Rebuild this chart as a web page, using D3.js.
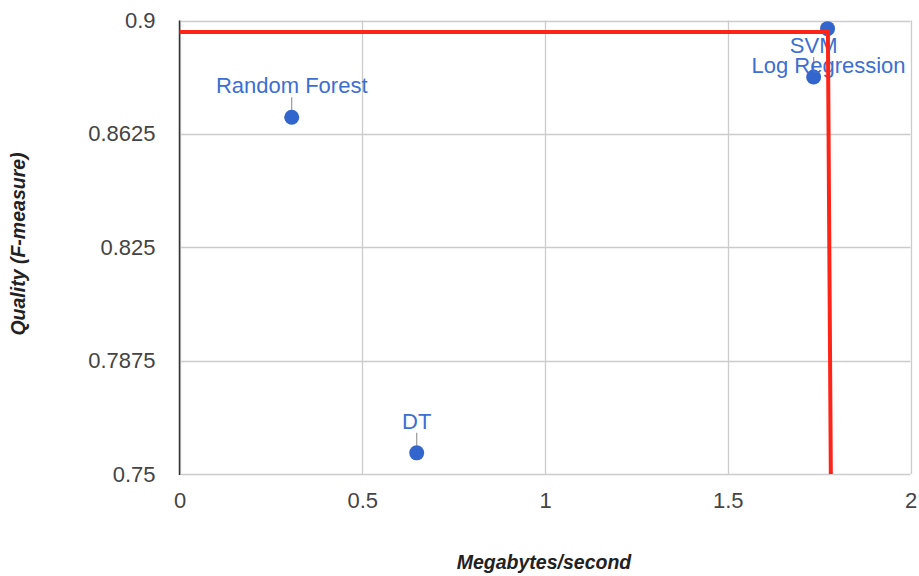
<!DOCTYPE html>
<html>
<head>
<meta charset="utf-8">
<script src="https://cdn.jsdelivr.net/npm/d3@7"></script>
<style>
  html, body { margin: 0; padding: 0; background: #fff; }
  svg { display: block; font-family: "Liberation Sans", Arial, sans-serif; }
</style>
</head>
<body>
<svg id="chart" width="919" height="576"></svg>
<script>
// Classifiers: throughput (MB/s) vs. quality (F-measure)
const models = ["Random Forest", "DT", "SVM", "Log Regression"];
const throughput = [0.307, 0.649, 1.735, 1.773];
const quality = [0.868, 0.757, 0.8813, 0.8973];
// annotation placement: above the point, or below when there is no room
const labelSide = ["above", "above", "above", "below"];

// Pareto frontier drawn in red
const frontierX = [0, 1.774, 1.782];
const frontierY = [0.8962, 0.8962, 0.75];

const xTicks = [0, 0.5, 1, 1.5, 2];
const yTicks = [0.75, 0.7875, 0.825, 0.8625, 0.9];

const svg = d3.select("#chart");
const plot = { left: 179.5, right: 910.5, top: 20.5, bottom: 474 };

const x = d3.scaleLinear().domain([0, 2]).range([plot.left, plot.right]);
const y = d3.scaleLinear().domain([0.75, 0.9]).range([plot.bottom, plot.top]);

// gridlines
svg.append("g").selectAll("line").data(xTicks).join("line")
  .attr("x1", d => Math.round(x(d)) + 0.5).attr("x2", d => Math.round(x(d)) + 0.5)
  .attr("y1", plot.top).attr("y2", plot.bottom)
  .attr("stroke", "#cccccc").attr("stroke-width", 1.3);
svg.append("g").selectAll("line").data(yTicks).join("line")
  .attr("x1", plot.left).attr("x2", plot.right)
  .attr("y1", d => Math.round(y(d)) + 0.5).attr("y2", d => Math.round(y(d)) + 0.5)
  .attr("stroke", "#cccccc").attr("stroke-width", 1.3);

// left axis line
svg.append("line")
  .attr("x1", plot.left).attr("x2", plot.left).attr("y1", plot.top).attr("y2", plot.bottom + 1)
  .attr("stroke", "#333333").attr("stroke-width", 1.5);

// y tick labels
const yAxis = d3.axisLeft(y).tickValues(yTicks).tickSize(0).tickPadding(24)
  .tickFormat(d => String(d));
svg.append("g").attr("transform", `translate(${plot.left},0)`).call(yAxis)
  .call(g => g.select(".domain").remove())
  .call(g => g.selectAll("text").attr("fill", "#444").attr("font-size", 22)
    .attr("font-family", "'Liberation Sans', Arial, sans-serif"));

// x tick labels
const xAxis = d3.axisBottom(x).tickValues(xTicks).tickSize(0).tickPadding(18)
  .tickFormat(d => String(d));
svg.append("g").attr("transform", `translate(0,${plot.bottom})`).call(xAxis)
  .call(g => g.select(".domain").remove())
  .call(g => g.selectAll("text").attr("fill", "#444").attr("font-size", 22)
    .attr("font-family", "'Liberation Sans', Arial, sans-serif"));

// axis titles
svg.append("text")
  .attr("x", 544).attr("y", 569)
  .attr("text-anchor", "middle")
  .attr("font-size", 19.5).attr("font-weight", "bold").attr("font-style", "italic")
  .attr("fill", "#222")
  .text("Megabytes/second");
svg.append("text")
  .attr("transform", "translate(25,244) rotate(-90)")
  .attr("text-anchor", "middle")
  .attr("font-size", 19.5).attr("font-weight", "bold").attr("font-style", "italic")
  .attr("fill", "#222")
  .text("Quality (F-measure)");

const pts = models.map((m, i) => ({ name: m, x: throughput[i], y: quality[i], side: labelSide[i] }));

// annotation stems
svg.append("g").selectAll("line").data(pts.filter(p => p.side === "above")).join("line")
  .attr("x1", p => x(p.x)).attr("x2", p => x(p.x))
  .attr("y1", p => y(p.y) - 7).attr("y2", p => y(p.y) - 20)
  .attr("stroke", "#999").attr("stroke-width", 1.2);

// points
svg.append("g").selectAll("circle").data(pts).join("circle")
  .attr("cx", p => x(p.x)).attr("cy", p => y(p.y)).attr("r", 7.5)
  .attr("fill", "#3366cc");

// annotations
svg.append("g").selectAll("text").data(pts).join("text")
  .attr("x", p => x(p.x) + (p.side === "below" ? 1 : 0))
  .attr("y", p => p.side === "above" ? y(p.y) - 24 : y(p.y) + 44)
  .attr("text-anchor", "middle")
  .attr("font-size", 22)
  .attr("fill", "#3d6fd1")
  .text(p => p.name);

// frontier line
const line = d3.line().x(d => x(d[0])).y(d => y(d[1]));
svg.append("path")
  .datum(frontierX.map((v, i) => [v, frontierY[i]]))
  .attr("d", line)
  .attr("fill", "none")
  .attr("stroke", "#ff2418")
  .attr("stroke-width", 4);
</script>
</body>
</html>
